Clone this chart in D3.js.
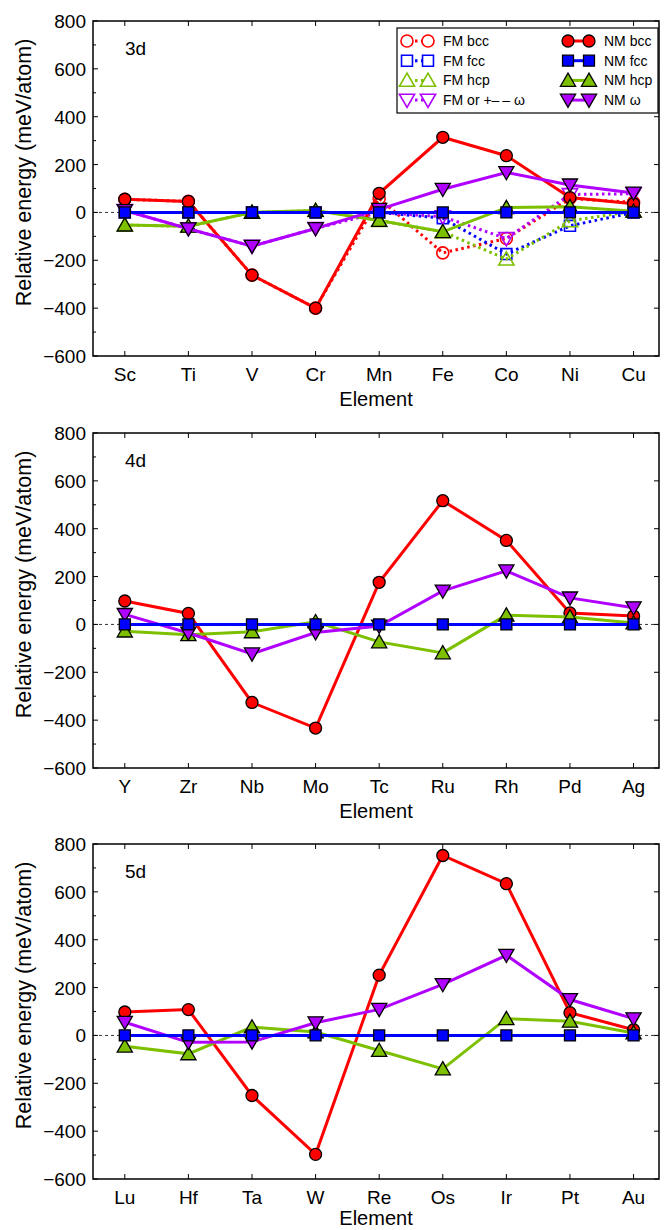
<!DOCTYPE html>
<html>
<head>
<meta charset="utf-8">
<script src="https://cdn.jsdelivr.net/npm/d3@7"></script>
<style>
body { margin: 0; background: #fff; }
text { font-family: "Liberation Sans", Arial, sans-serif; }
</style>
</head>
<body>
<script>
// element labels per row
var elements3d = ["Sc", "Ti", "V", "Cr", "Mn", "Fe", "Co", "Ni", "Cu"];
var elements4d = ["Y", "Zr", "Nb", "Mo", "Tc", "Ru", "Rh", "Pd", "Ag"];
var elements5d = ["Lu", "Hf", "Ta", "W", "Re", "Os", "Ir", "Pt", "Au"];

var yTicks = [-600, -400, -200, 0, 200, 400, 600, 800];

// 3d values (meV/atom)
var nmBcc3d = [55, 46, -262, -400, 80, 314, 237, 62, 36];
var nmFcc3d = [0, 0, 0, 0, 0, 0, 0, 0, 0];
var nmHcp3d = [-53, -58, 0, 8, -34, -81, 20, 24, 5];
var nmOmega3d = [8, -68, -141, -67, 13, 97, 167, 115, 81];
var fmBcc3d = [55, 46, -262, -400, 58, -169, -109, 58, 42];
var fmFcc3d = [0, 0, 0, 0, 0, -24, -174, -56, 0];
var fmHcp3d = [-53, -58, 0, 8, -34, -81, -195, -35, 5];
var fmOmega3d = [8, -68, -141, -67, 0, -18, -109, 75, 78];

// 4d values
var nmBcc4d = [98, 46, -326, -433, 176, 517, 351, 48, 35];
var nmFcc4d = [0, 0, 0, 0, 0, 0, 0, 0, 0];
var nmHcp4d = [-28, -43, -31, 11, -73, -119, 39, 31, 6];
var nmOmega4d = [42, -36, -123, -34, -7, 140, 224, 111, 70];

// 5d values
var nmBcc5d = [98, 108, -251, -497, 252, 752, 634, 95, 24];
var nmFcc5d = [0, 0, 0, 0, 0, 0, 0, 0, 0];
var nmHcp5d = [-45, -77, 35, 14, -63, -140, 70, 59, 10];
var nmOmega5d = [55, -29, -27, 53, 109, 213, 335, 150, 70];

var colRed = "#ff0000", colBlue = "#0000ff", colGreen = "#7cc000", colPurple = "#b000ff";

var width = 664, height = 1230;
var left = 93, right = 659, panelH = 335;

var svg = d3.select("body").append("svg")
    .attr("width", width)
    .attr("height", height);

var symCircle = d3.symbol().type(d3.symbolCircle).size(113);
var symSquare = d3.symbol().type(d3.symbolSquare).size(120);
var symUp = d3.symbol().type(d3.symbolTriangle).size(100);

function markerPath(kind) {
  if (kind == "circle") return symCircle();
  if (kind == "square") return symSquare();
  return symUp();
}

function markerTransform(shape, px, py) {
  var rot = shape == "down" ? " rotate(180)" : "";
  var dy = shape == "up" ? 1.5 : (shape == "down" ? -1.5 : 0);
  return "translate(" + px + "," + (py + dy) + ")" + rot;
}

function drawPanel(top, elements, label, series) {
  var g = svg.append("g");
  var x = d3.scaleLinear().domain([-0.5, 8.4]).range([left, right]);
  var y = d3.scaleLinear().domain([-600, 800]).range([top + panelH, top]);

  // zero reference line
  g.append("line")
    .attr("x1", left).attr("x2", right)
    .attr("y1", y(0)).attr("y2", y(0))
    .attr("stroke", "#000").attr("stroke-width", 0.8)
    .attr("stroke-dasharray", "3,3");

  var line = d3.line()
    .defined(function(d) { return d != null; })
    .x(function(d, i) { return x(i); })
    .y(function(d) { return y(d); });

  series.forEach(function(s) {
    g.append("path")
      .attr("d", line(s.values))
      .attr("fill", "none")
      .attr("stroke", s.color)
      .attr("stroke-width", 3)
      .attr("stroke-dasharray", s.open ? "2.5,3.5" : null);

    g.selectAll(null)
      .data(s.values.map(function(v, i) { return {v: v, i: i}; }).filter(function(d) { return d.v != null; }))
      .enter().append("path")
      .attr("d", markerPath(s.shape))
      .attr("transform", function(d) { return markerTransform(s.shape, x(d.i), y(d.v)); })
      .attr("fill", s.open ? "#fff" : s.color)
      .attr("fill-opacity", s.open ? 0 : 1)
      .attr("stroke", s.open ? s.color : "#000")
      .attr("stroke-width", s.open ? 1.6 : 1.3);
  });

  // frame
  g.append("rect")
    .attr("x", left).attr("y", top)
    .attr("width", right - left).attr("height", panelH)
    .attr("fill", "none").attr("stroke", "#000").attr("stroke-width", 1.5);

  // left axis with minor ticks
  var yMinor = d3.range(-500, 800, 200);
  yMinor.forEach(function(v) {
    g.append("line").attr("x1", left).attr("x2", left + 3)
      .attr("y1", y(v)).attr("y2", y(v)).attr("stroke", "#000");
  });
  yTicks.forEach(function(v) {
    g.append("line").attr("x1", left).attr("x2", left + 5)
      .attr("y1", y(v)).attr("y2", y(v)).attr("stroke", "#000");
    g.append("line").attr("x1", right).attr("x2", right - 5)
      .attr("y1", y(v)).attr("y2", y(v)).attr("stroke", "#000");
    g.append("text")
      .attr("x", left - 7).attr("y", y(v) + 7)
      .attr("text-anchor", "end")
      .attr("font-size", 19)
      .text(v < 0 ? "\u2212" + Math.abs(v) : v);
  });

  elements.forEach(function(el, i) {
    g.append("line").attr("x1", x(i)).attr("x2", x(i))
      .attr("y1", top + panelH).attr("y2", top + panelH - 5).attr("stroke", "#000");
    g.append("line").attr("x1", x(i)).attr("x2", x(i))
      .attr("y1", top).attr("y2", top + 5).attr("stroke", "#000");
    g.append("text")
      .attr("x", x(i)).attr("y", top + panelH + 25)
      .attr("text-anchor", "middle")
      .attr("font-size", 19)
      .text(el);
  });

  g.append("text")
    .attr("x", (left + right) / 2).attr("y", Math.min(top + panelH + 50, height - 5))
    .attr("text-anchor", "middle")
    .attr("font-size", 20)
    .text("Element");

  g.append("text")
    .attr("transform", "translate(31," + (top + panelH / 2 - 16) + ") rotate(-90)")
    .attr("text-anchor", "middle")
    .attr("font-size", 21.5)
    .text("Relative energy (meV/atom)");

  g.append("text")
    .attr("x", 125).attr("y", top + 34)
    .attr("font-size", 19)
    .text(label);

  return g;
}

var fm3d = [
  {name: "FM bcc", values: fmBcc3d, color: colRed, shape: "circle", open: true},
  {name: "FM fcc", values: fmFcc3d, color: colBlue, shape: "square", open: true},
  {name: "FM hcp", values: fmHcp3d, color: colGreen, shape: "up", open: true},
  {name: "FM or +\u2013\u2009\u2013 \u03c9", values: fmOmega3d, color: colPurple, shape: "down", open: true}
];

function nmSeries(bcc, fcc, hcp, omega) {
  return [
    {name: "NM bcc", values: bcc, color: colRed, shape: "circle", open: false},
    {name: "NM hcp", values: hcp, color: colGreen, shape: "up", open: false},
    {name: "NM \u03c9", values: omega, color: colPurple, shape: "down", open: false},
    {name: "NM fcc", values: fcc, color: colBlue, shape: "square", open: false}
  ];
}

var nm3d = nmSeries(nmBcc3d, nmFcc3d, nmHcp3d, nmOmega3d);
drawPanel(21, elements3d, "3d", fm3d.concat(nm3d));
drawPanel(433, elements4d, "4d", nmSeries(nmBcc4d, nmFcc4d, nmHcp4d, nmOmega4d));
drawPanel(844, elements5d, "5d", nmSeries(nmBcc5d, nmFcc5d, nmHcp5d, nmOmega5d));

// legend
var leg = svg.append("g");
leg.append("rect")
  .attr("x", 397).attr("y", 28).attr("width", 261).attr("height", 85)
  .attr("fill", "#fff").attr("stroke", "#000").attr("stroke-width", 1.2);

var legNm = [nm3d[0], nm3d[3], nm3d[1], nm3d[2]];
function legendItem(s, x0, yy) {
  var lx1 = x0, lx2 = x0 + 21;
  leg.append("line").attr("x1", lx1).attr("x2", lx2).attr("y1", yy).attr("y2", yy)
    .attr("stroke", s.color).attr("stroke-width", 3)
    .attr("stroke-dasharray", s.open ? "2.5,3.5" : null)
    .attr("stroke-dashoffset", s.open ? -8 : 0);
  [lx1, lx2].forEach(function(px) {
    leg.append("path")
      .attr("d", markerPath(s.shape))
      .attr("transform", markerTransform(s.shape, px, yy))
      .attr("fill", s.open ? "#fff" : s.color)
      .attr("stroke", s.open ? s.color : "#000")
      .attr("stroke-width", s.open ? 1.6 : 1.3);
  });
  leg.append("text").attr("x", x0 + 36).attr("y", yy + 5)
    .attr("font-size", 14).text(s.name);
}
fm3d.forEach(function(s, i) { legendItem(s, 407, 41 + i * 19.7); });
legNm.forEach(function(s, i) { legendItem(s, 568, 41 + i * 19.7); });
</script>
</body>
</html>
